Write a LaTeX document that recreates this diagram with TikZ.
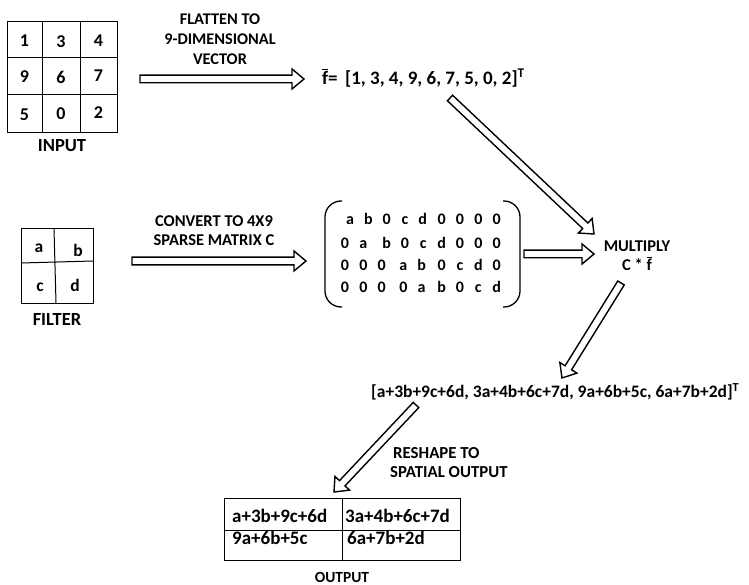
\documentclass[tikz,border=0pt]{standalone}
\usepackage{fontspec}
\setmainfont{Carlito}
\usetikzlibrary{calc}
\newcommand\fbar{\leavevmode\vbox{\hrule height 0.8pt\kern1.3pt\hbox{f}}}
\newcommand\fsz[1]{\fontsize{#1}{19}\selectfont}
\tikzset{
  lbl/.style={font=\bfseries\fsz{#1}, inner sep=0pt, align=center},
  cellnum/.style={font=\bfseries\fsz{18}, inner sep=0pt},
  cellfl/.style={font=\bfseries\fsz{17.5}, inner sep=0pt},
  mch/.style={font=\bfseries\fsz{16}, inner sep=0pt, anchor=base},
  grid/.style={draw, line width=1pt},
  arrowline/.style={line width=1.4pt, line join=miter},
}
% hollow block arrow from #1 to #2
\newcommand\hollowarrow[2]{%
  \coordinate (ha-h) at ($(#2)!12pt!(#1)$);
  \draw[arrowline]
    ($(#1)!3.8pt!90:(#2)$) -- ($(ha-h)!3.8pt!90:(#2)$) -- ($(ha-h)!10pt!90:(#2)$) -- (#2)
    -- ($(ha-h)!10pt!-90:(#2)$) -- ($(ha-h)!3.8pt!-90:(#2)$) -- ($(#1)!3.8pt!-90:(#2)$) -- cycle;
}
\begin{document}
\begin{tikzpicture}[x=1pt,y=-1pt]
\useasboundingbox (0,0) rectangle (749,585);
% input grid
\node[grid, minimum width=110pt, minimum height=111pt, inner sep=0pt] (inp) at (62,77.5) {};
\draw[grid] (42,22) -- (42,133) (80,22) -- (80,133) (7,58) -- (117,58) (7,95) -- (117,95);
\node[cellnum] (i1) at (24.5,41) {1};
\node[cellnum] (i2) at (61,42) {3};
\node[cellnum] (i3) at (98.5,41) {4};
\node[cellnum] (i4) at (24.5,77) {9};
\node[cellnum] (i5) at (61,77) {6};
\node[cellnum] (i6) at (98.5,76) {7};
\node[cellnum] (i7) at (24.5,115) {5};
\node[cellnum] (i8) at (61,114) {0};
\node[cellnum] (i9) at (98.5,113) {2};
\node[lbl=18.5] (inlbl) at (62,146) {INPUT};
% flatten
\node[lbl=16.3, font=\bfseries\fontsize{16.3}{20}\selectfont] (flat) at (220,39) {FLATTEN TO\\9-DIMENSIONAL\\VECTOR};
\coordinate (a1s) at (140,79);
\coordinate (a1e) at (304,79);
\hollowarrow{a1s}{a1e}
\node[lbl=19, anchor=west] (fvec) at (322,78) {\fbar= \,[1, 3, 4, 9, 6, 7, 5, 0, 2]\textsuperscript{T}};
% filter
\node[grid, minimum width=72pt, minimum height=74pt, inner sep=0pt] (filt) at (57,266) {};
\draw[grid] (54,229) -- (56,303) (21,263) -- (93,261);
\node[cellfl] (fa) at (39,248) {a};
\node[cellfl] (fb) at (78,250) {b};
\node[cellfl] (fc) at (40,287) {c};
\node[cellfl] (fd) at (75,285) {d};
\node[lbl=18.5] (filbl) at (57,320) {FILTER};
% convert
\node[lbl=16.5] (conv) at (214,231) {CONVERT TO 4X9\\SPARSE MATRIX C};
\coordinate (a2s) at (132,261);
\coordinate (a2e) at (306,261);
\hollowarrow{a2s}{a2e}
% matrix
\foreach \yy/\row [count=\r] in {
  225/{a/180,b/235,0/290,c/345,d/398,0/455,0/510,0/565,0/620},
  248/{0/165,a/220,b/290,0/345,c/400,d/455,0/510,0/565,0/620},
  270/{0/165,0/220,0/275,a/340,b/395,0/455,c/510,d/565,0/620},
  292/{0/165,0/220,0/275,0/340,a/395,b/455,0/510,c/565,d/620}}{
  \foreach \ch/\z [count=\c] in \row {
    \node[mch] (m\r-\c) at ({290+\z/3},\yy) {\ch};
  }
}
\draw[line width=1.3pt, rounded corners=16pt] (342,201) -- (325,201) -- (325,307) -- (342,307);
\draw[line width=1.3pt, rounded corners=16pt] (503,201) -- (520,201) -- (520,307) -- (503,307);
% multiply
\node[lbl=16.5] (mult) at (637,256) {MULTIPLY\\C * \fbar};
\coordinate (a3s) at (524,254);
\coordinate (a3e) at (594,254);
\hollowarrow{a3s}{a3e}
\coordinate (a4s) at (450,98);
\coordinate (a4e) at (594,234);
\hollowarrow{a4s}{a4e}
% result
\coordinate (a5s) at (621,283);
\coordinate (a5e) at (562,378);
\hollowarrow{a5s}{a5e}
\node[lbl=17.5, anchor=west] (res) at (371,392) {[a+3b+9c+6d, 3a+4b+6c+7d, 9a+6b+5c, 6a+7b+2d]\textsuperscript{T}};
% reshape
\coordinate (a6s) at (416,405);
\coordinate (a6e) at (334,492);
\hollowarrow{a6s}{a6e}
\node[lbl=16.8, anchor=west, align=left] (resh) at (390,463) {\hspace{3pt}RESHAPE TO\\SPATIAL OUTPUT};
% output table
\node[draw, line width=1pt, minimum width=236pt, minimum height=62pt, inner sep=0pt] (outt) at (342,529) {};
\draw[line width=1pt] (342,498) -- (342,560) (224,530) -- (460,530);
\node[lbl=19, anchor=west] (o1) at (232,516) {a+3b+9c+6d};
\node[lbl=19, anchor=west] (o2) at (345,516) {3a+4b+6c+7d};
\node[lbl=19, anchor=west] (o3) at (232,538) {9a+6b+5c};
\node[lbl=19, anchor=west] (o4) at (347,538) {6a+7b+2d};
\node[lbl=15.5] (outlbl) at (342,577) {OUTPUT};
\end{tikzpicture}
\end{document}
